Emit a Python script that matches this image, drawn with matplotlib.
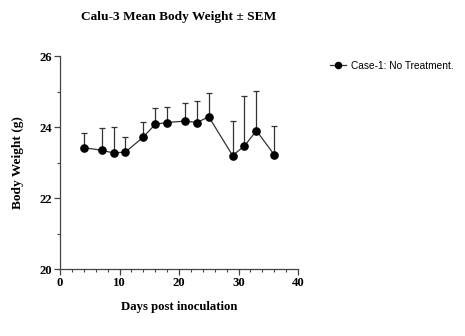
import matplotlib
matplotlib.use("Agg")
import matplotlib.pyplot as plt
from matplotlib.ticker import MultipleLocator
import numpy as np

# Mean body weight and SEM per day
days = [4, 7, 9, 11, 14, 16, 18, 21, 23, 25, 29, 31, 33, 36]
mean_weight = [23.42, 23.35, 23.27, 23.30, 23.72, 24.08, 24.13, 24.17, 24.13, 24.29,
               23.20, 23.47, 23.90, 23.22]
sem = [0.41, 0.63, 0.73, 0.41, 0.43, 0.46, 0.45, 0.51, 0.61, 0.67,
       0.98, 1.42, 1.12, 0.82]
series_label = "Case-1: No Treatment."

serif = "Liberation Serif"

fig = plt.figure(figsize=(4.65, 3.36), dpi=100)
ax = fig.add_axes([0.129, 0.199, 0.512, 0.634])

lower = np.zeros(len(sem))
ax.errorbar(days, mean_weight, yerr=[lower, sem], fmt="none", ecolor="#333333",
            elinewidth=0.9, capsize=2.5, capthick=0.9, zorder=2)
line, = ax.plot(days, mean_weight, color="#333333", lw=0.9, marker="o",
                markersize=5.2, markerfacecolor="black", markeredgecolor="black",
                zorder=3, label=series_label)

ax.set_xlim(0, 40)
ax.set_ylim(20, 26)
ax.xaxis.set_major_locator(MultipleLocator(10))
ax.xaxis.set_minor_locator(MultipleLocator(2))
ax.yaxis.set_major_locator(MultipleLocator(2))
ax.yaxis.set_minor_locator(MultipleLocator(1))

for side in ("top", "right"):
    ax.spines[side].set_visible(False)
for side in ("left", "bottom"):
    ax.spines[side].set_color("#444444")
    ax.spines[side].set_linewidth(0.9)
ax.tick_params(which="major", direction="out", length=4, width=0.9, color="#444444", pad=2)
ax.tick_params(which="minor", direction="out", length=2.5, width=0.8, color="#444444")

for lbl in ax.get_xticklabels() + ax.get_yticklabels():
    lbl.set_fontfamily(serif)
    lbl.set_fontweight("bold")
    lbl.set_fontsize(9.2)

ax.set_xlabel("Days post inoculation", fontfamily=serif, fontweight="bold",
              fontsize=9.2, labelpad=8)
ax.set_ylabel("Body Weight (g)", fontfamily=serif, fontweight="bold",
              fontsize=9.6, labelpad=11)
ax.set_title("Calu-3 Mean Body Weight \u00b1 SEM", fontfamily=serif,
             fontweight="bold", fontsize=9.6, pad=26)

fig.legend(handles=[line], loc="center left", bbox_to_anchor=(0.69, 0.804),
           frameon=False, prop={"family": "Liberation Sans", "size": 7.3},
           handlelength=1.6, handletextpad=0.5, markerscale=0.85)

fig.savefig("out.png", dpi=100)
